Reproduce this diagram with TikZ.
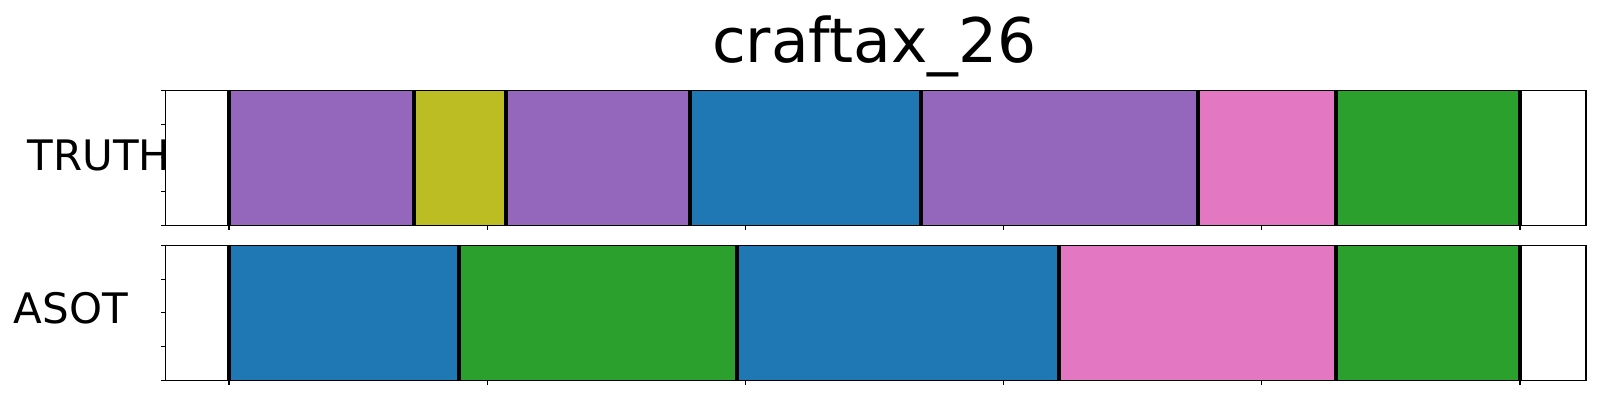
\documentclass[tikz,border=0pt]{standalone}
\usepackage{fontspec}
\setmainfont{DejaVu Sans}
\definecolor{tabpurple}{HTML}{9467BD}
\definecolor{tabolive}{HTML}{BCBD22}
\definecolor{tabblue}{HTML}{1F77B4}
\definecolor{tabpink}{HTML}{E377C2}
\definecolor{tabgreen}{HTML}{2CA02C}
\begin{document}
\begin{tikzpicture}[x=1bp,y=-1bp,
  spine/.style={line width=1.1bp,black},
  sepline/.style={line width=3.5bp,black},
  tickmark/.style={line width=1.1bp,black},
  label/.style={inner sep=0pt,anchor=base west,font=\fontsize{42bp}{50bp}\selectfont},
  titlelabel/.style={inner sep=0pt,anchor=base,font=\fontsize{61.5bp}{70bp}\selectfont}]
\useasboundingbox (0,0) rectangle (1600,400);
% ---------- top axes (TRUTH) ----------
\def\ta{90.3}\def\tb{225.3}
\foreach \xa/\xb/\col in {229/414/tabpurple,414/506/tabolive,506/690/tabpurple,690/921/tabblue,921/1198/tabpurple,1198/1336/tabpink,1336/1520/tabgreen}
  \fill[\col] (\xa,\ta) rectangle (\xb,\tb);
\foreach \x in {229,414,506,690,921,1198,1336,1520}
  \draw[sepline] (\x,\ta) -- (\x,\tb);
\draw[spine] (165.5,\ta) rectangle (1586,\tb);
\foreach \y in {90.3,124.05,157.8,191.55,225.3}
  \draw[tickmark] (165.5,\y) -- (160.6,\y);
\foreach \x in {229,487.2,745.4,1003.6,1261.8,1520}
  \draw[tickmark] (\x,\tb) -- (\x,230.2);
% ---------- bottom axes (ASOT) ----------
\def\ba{245.3}\def\bb{380.3}
\foreach \xa/\xb/\col in {229/459/tabblue,459/737/tabgreen,737/1059/tabblue,1059/1336/tabpink,1336/1520/tabgreen}
  \fill[\col] (\xa,\ba) rectangle (\xb,\bb);
\foreach \x in {229,459,737,1059,1336,1520}
  \draw[sepline] (\x,\ba) -- (\x,\bb);
\draw[spine] (165.5,\ba) rectangle (1586,\bb);
\foreach \y in {245.3,279.05,312.8,346.55,380.3}
  \draw[tickmark] (165.5,\y) -- (160.6,\y);
\foreach \x in {229,487.2,745.4,1003.6,1261.8,1520}
  \draw[tickmark] (\x,\bb) -- (\x,385.2);
% ---------- texts ----------
\node[titlelabel] (title) at (874.4,62.7) {craftax\_26};
\node[label] (truth) at (27.5,170) {TRUTH};
\node[label] (asot) at (13.5,323.3) {ASOT};
\end{tikzpicture}
\end{document}
